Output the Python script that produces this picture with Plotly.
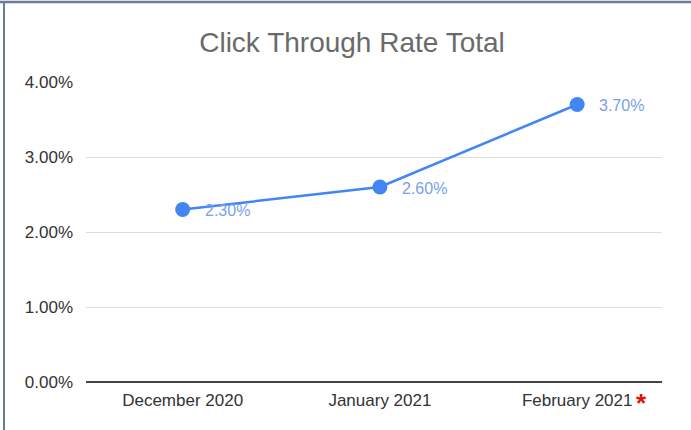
import plotly.graph_objects as go

# Monthly click-through rate (percent)
months = ["December 2020", "January 2021", "February 2021"]
ctr_pct = [2.30, 2.60, 3.70]
y_ticks = [0, 1, 2, 3, 4]
y_tick_labels = ["0.00%", "1.00%", "2.00%", "3.00%", "4.00%"]

W, H = 691, 430
ML, MR, MT, MB = 86, 29, 82, 48
PW, PH = W - ML - MR, H - MT - MB
FONT = "Liberation Sans, Arial"

def px_to_paper_x(px):
    return (px - ML) / PW

def px_to_paper_y(py):
    return 1 - (py - MT) / PH

fig = go.Figure()
fig.add_trace(go.Scatter(
    x=months,
    y=ctr_pct,
    mode="lines+markers",
    line=dict(color="#4285F4", width=2.5),
    marker=dict(color="#4285F4", size=15),
    cliponaxis=False,
    hoverinfo="skip",
))

# Value labels to the right of each point
for m, v in zip(months, ctr_pct):
    fig.add_annotation(
        x=m, y=v, xref="x", yref="y",
        text=f"{v:.2f}%", showarrow=False,
        xanchor="left", yanchor="middle",
        xshift=20, yshift=-1,
        font=dict(family=FONT, size=16, color="#7aa0ec"),
    )

# Red asterisk next to the last month label
fig.add_annotation(
    x=px_to_paper_x(649), y=px_to_paper_y(420), xref="paper", yref="paper",
    text="<b>*</b>", showarrow=False,
    font=dict(family=FONT, size=26, color="#e01010"),
)

# Frame lines along the top and left edges
border = "#6d7b95"
fig.add_shape(type="line", xref="paper", yref="paper",
              x0=px_to_paper_x(0), x1=px_to_paper_x(W),
              y0=px_to_paper_y(2), y1=px_to_paper_y(2),
              line=dict(color=border, width=2.5))
fig.add_shape(type="line", xref="paper", yref="paper",
              x0=px_to_paper_x(4), x1=px_to_paper_x(4),
              y0=px_to_paper_y(1), y1=px_to_paper_y(H),
              line=dict(color=border, width=2))

fig.update_layout(
    width=W, height=H,
    margin=dict(l=ML, r=MR, t=MT, b=MB),
    paper_bgcolor="white",
    plot_bgcolor="white",
    showlegend=False,
    title=dict(
        text="Click Through Rate Total",
        x=352 / W, xanchor="center",
        y=1 - 42 / H, yanchor="middle",
        font=dict(family=FONT, size=28, color="#6a6a6a"),
    ),
    xaxis=dict(
        type="category",
        range=[-0.49, 2.43],
        showgrid=False,
        showline=False,
        zeroline=False,
        ticks="",
        tickfont=dict(family=FONT, size=17, color="#333333"),
        ticklabelstandoff=6,
    ),
    yaxis=dict(
        range=[0, 4],
        tickvals=y_ticks,
        ticktext=y_tick_labels,
        showgrid=True,
        gridcolor="#dedede",
        gridwidth=1,
        zeroline=True,
        zerolinecolor="#444444",
        zerolinewidth=2,
        showline=False,
        ticks="",
        ticklabelstandoff=12,
        tickfont=dict(family=FONT, size=17, color="#333333"),
    ),
)

fig.write_html("out.html")
